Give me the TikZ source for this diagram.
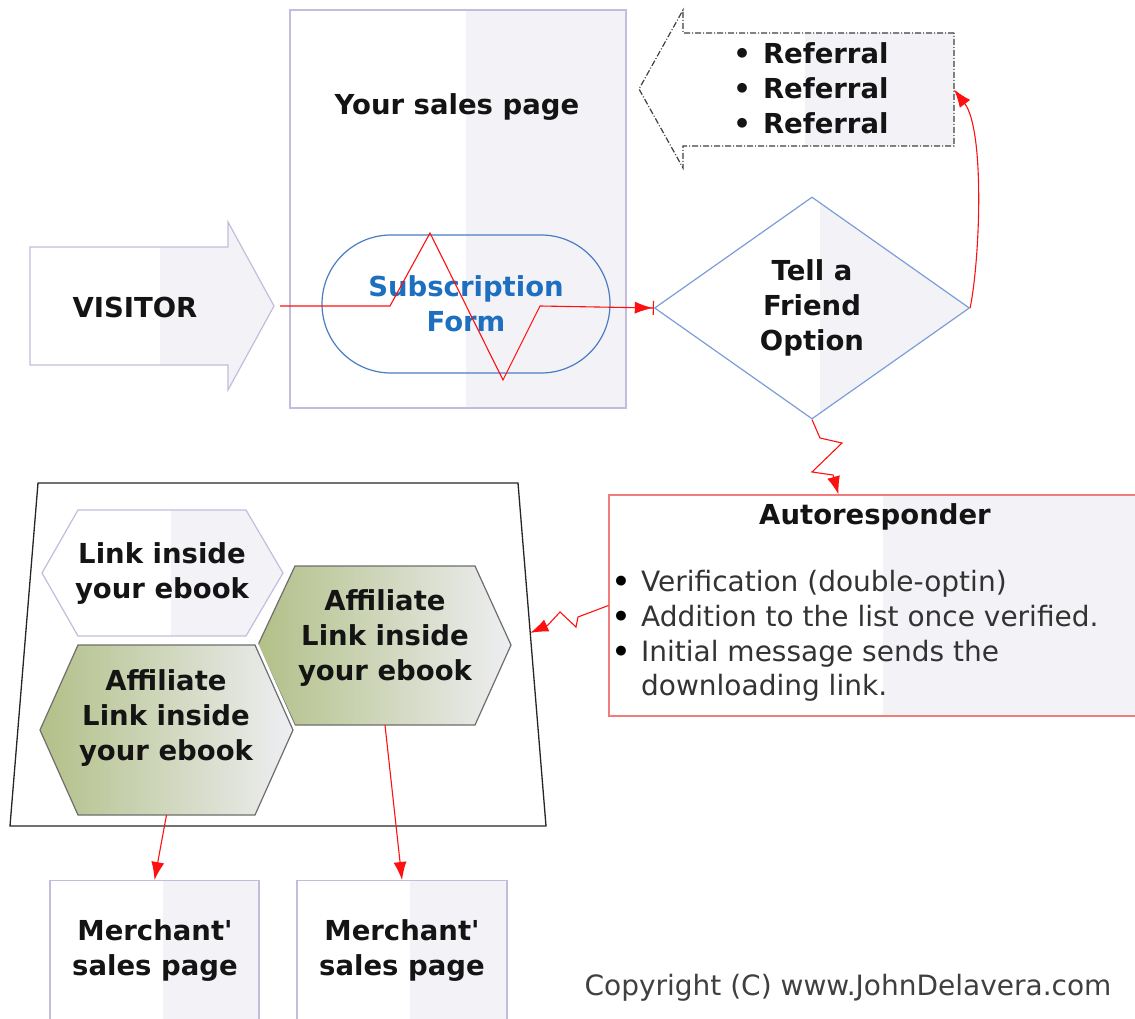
\documentclass[tikz,border=0pt]{standalone}
\usepackage{fontspec}
\setmainfont{DejaVu Sans}[Ligatures=TeXOff]
\usetikzlibrary{arrows.meta,shapes.geometric,shapes.misc,positioning}

\definecolor{pageline}{HTML}{C4BCDC}
\definecolor{shadegray}{HTML}{F3F3F7}
\definecolor{formblue}{HTML}{4A7CC4}
\definecolor{formtext}{HTML}{1F6FC0}
\definecolor{diamline}{HTML}{7C9ED8}
\definecolor{autoline}{HTML}{F27C7C}
\definecolor{hexline}{HTML}{6E6E6E}
\definecolor{hexgreen}{HTML}{B2C088}
\definecolor{hexmid}{HTML}{D9E4C6}
\definecolor{hexgray}{HTML}{EEEEF2}
\definecolor{linkred}{HTML}{FF1010}

\newcommand\arbullet{\textcolor{black}{\bfseries\textbullet}\hspace{11pt}}

\tikzset{
  lbl/.style={font=\bfseries\fontsize{27.5}{35}\selectfont, align=center, text=black!92},
  halfshade/.style={path picture={\fill[shadegray] ([xshift=8pt]path picture bounding box.north) rectangle (path picture bounding box.south east);}},
  pagebox/.style={rectangle, draw=pageline, line width=1.2pt, fill=white, halfshade, inner sep=0pt},
  hexshade/.style={draw=hexline, line width=1.2pt, left color=hexgreen, middle color=hexmid, right color=hexgray, preaction={draw=white, line width=7pt}},
  refline/.style={draw=black!75, line width=1.2pt, dash pattern=on 6pt off 2pt on 1pt off 2pt},
  redline/.style={draw=linkred, line width=1.1pt},
  redarrow/.style={redline, -{Latex[length=18pt,width=13pt]}},
}

\begin{document}
\begin{tikzpicture}[x=1pt, y=-1pt]
  \useasboundingbox[fill=white] (0,0) rectangle (1135,1019);

  % sales page with the form
  \node[pagebox, minimum width=336pt, minimum height=398pt] (page) at (458,209) {};
  \node[lbl] (pagetitle) at (457,107) {Your sales page};
  \node[rounded rectangle, draw=formblue, line width=1.2pt, minimum width=288pt, minimum height=138pt,
        inner sep=0pt, lbl, text=formtext] (form) at (466,304) {Subscription\\Form};

  % visitor arrow
  \draw[pageline, line width=1.2pt, fill=white, halfshade] (30,247) -- (228,247) -- (228,222)
    -- (274,306) coordinate (vtip) -- (228,390) -- (228,365) -- (30,365) -- cycle;
  \node[lbl] (visitor) at (135,307) {VISITOR};

  % referral arrow
  \draw[refline, fill=white, halfshade] (954,33) -- (683,33) -- (683,10) -- (639,89) -- (683,168)
    -- (683,146) -- (954,146) -- coordinate[midway] (refin) cycle;
  \node[lbl, align=left] (refs) at (811,88) {\textbullet\hspace{12pt}Referral\\\textbullet\hspace{12pt}Referral\\\textbullet\hspace{12pt}Referral};

  % decision
  \node[diamond, aspect=1.42, draw=diamline, line width=1.2pt, fill=white, halfshade,
        minimum width=315pt, minimum height=222pt, inner sep=0pt, lbl] (tell) at (812,308) {Tell a\\Friend\\Option};

  % autoresponder
  \node[rectangle, draw=autoline, line width=1.2pt, fill=white, halfshade, minimum width=531pt,
        minimum height=221pt, inner sep=0pt] (auto) at (874.5,605.5) {};
  \node[lbl] (autotitle) at (875,517) {Autoresponder};
  \node[font=\fontsize{28}{34.7}\selectfont, text=black!80, align=left, anchor=west, inner sep=0pt] (autolist) at (612,636)
    {\arbullet Verification (double-optin)\\\arbullet Addition to the list once verified.\\\arbullet Initial message sends the\\\hphantom{\arbullet}downloading link.};

  % ebook
  \draw[black!85, line width=1.3pt, fill=white] (38,483) -- (518,483) -- coordinate[pos=0.437] (ebookin) (546,826)
    -- (10,826) -- cycle;
  \draw[pageline, line width=1.2pt, fill=white, halfshade] (42,573) -- (78,510) -- (246,510) -- (283,573)
    -- (246,636) -- (78,636) -- cycle;
  \node[lbl] (hexa) at (162,574) {Link inside\\your ebook};
  \path[hexshade] (258,645) -- (295,566) -- (475,566) -- (511,645) -- (475,725)
    -- coordinate[midway] (hexbbot) (295,725) -- cycle;
  \node[lbl] (hexb) at (385,638) {Affiliate\\Link inside\\your ebook};
  \path[hexshade] (40,730) -- (78,645) -- (255,645) -- (293,730) -- (255,815)
    -- coordinate[midway] (hexcbot) (78,815) -- cycle;
  \node[lbl] (hexc) at (166,718) {Affiliate\\Link inside\\your ebook};

  % merchant pages
  \node[pagebox, minimum width=209pt, minimum height=150pt, anchor=north] (merchA) at (154.5,880) {};
  \node[lbl] (merchAtext) at (155,951) {Merchant'\\sales page};
  \node[pagebox, minimum width=210pt, minimum height=150pt, anchor=north] (merchB) at (402,880) {};
  \node[lbl] (merchBtext) at (402,951) {Merchant'\\sales page};

  % connectors
  \draw[redline, -{Latex[length=18pt,width=12pt]Bar[width=14pt]}] ([xshift=6pt]vtip) -- (390,306) -- (430,233)
    -- (503,380) -- (540,306) -- (tell.west);
  \draw[redarrow] (tell.east) .. controls (980,260) and (985,130) .. (refin);
  \draw[redarrow] (tell.south) -- (820,438) -- (842,443) -- (812,472) -- (833,475) -- ([xshift=-36pt]auto.north);
  \draw[redarrow] (auto.west) -- (578,617) -- (576,627) -- (560,612) -- (548,625) -- (ebookin);
  \draw[redarrow] (hexcbot) -- (merchA.north);
  \draw[redarrow] (hexbbot) -- (merchB.north);

  \node[font=\fontsize{28}{34}\selectfont, text=black!75] (copy) at (848,988) {Copyright (C) www.JohnDelavera.com};
\end{tikzpicture}
\end{document}
